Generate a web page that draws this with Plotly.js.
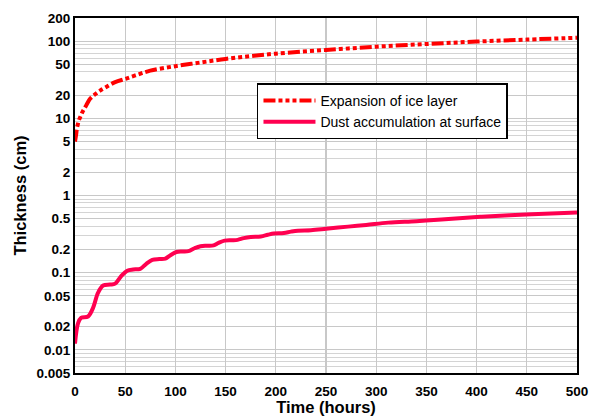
<!DOCTYPE html>
<html>
<head>
<meta charset="utf-8">
<script src="https://cdn.plot.ly/plotly-3.0.1.min.js"></script>
<style>html,body{margin:0;padding:0;background:#fff;}#chart{width:597px;height:416px;}</style>
</head>
<body>
<div id="chart"></div>
<script>
const iceTime = [0,1,2,4,6,8,11,15,20,25,30,40,50,60,75,100,125,150,175,200,250,300,350,400,450,500];
const iceThickness = [5.0,6,7.5,9.5,11,12.5,14.6,17.9,20.5,22.9,25,29.5,32.5,36,41.5,47.5,53,59,64,69,77,85,92,99,105,111];

const dustTime = [0,3,6,13,18,23,28,35,40,46,52,58,65,71,77,84,90,95,101,107,113,119,125,132,138,143,149,156,162,168,175,185,192,198,208,215,222,235,250,272,290,312,340,365,405,455,500];
const dustThickness = [0.012,0.022,0.026,0.027,0.035,0.055,0.068,0.07,0.072,0.09,0.106,0.11,0.112,0.13,0.146,0.15,0.152,0.168,0.185,0.188,0.19,0.207,0.22,0.223,0.226,0.243,0.26,0.263,0.266,0.28,0.29,0.295,0.31,0.322,0.327,0.34,0.35,0.355,0.37,0.395,0.415,0.445,0.465,0.49,0.53,0.57,0.60];

const yTicks = [0.005,0.01,0.02,0.05,0.1,0.2,0.5,1,2,5,10,20,50,100,200];
const yTickText = ['0.005','0.01','0.02','0.05','0.1','0.2','0.5','1','2','5','10','20','50','100','200'];
const xTicks = [0,50,100,150,200,250,300,350,400,450,500];

const traces = [
  {x: iceTime, y: iceThickness, mode: 'lines', name: 'Expansion of ice layer',
   line: {color: '#ff0000', width: 4, shape: 'spline', dash: '12px,3px,4px,3px,4px,3px,4px,3px'}},
  {x: dustTime, y: dustThickness, mode: 'lines', name: 'Dust accumulation at surface',
   line: {color: '#ff0050', width: 4, shape: 'spline'}}
];

const FONT = 'Liberation Sans, Arial, sans-serif';
const layout = {
  width: 597, height: 416,
  margin: {l: 75, r: 20, t: 17.5, b: 43.3},
  paper_bgcolor: '#ffffff', plot_bgcolor: '#ffffff',
  font: {family: FONT, color: '#000000'},
  showlegend: true,
  legend: {x: 0.3625, y: 0.8156, xanchor: 'left', yanchor: 'top',
    bgcolor: '#ffffff', bordercolor: '#000000', borderwidth: 1.5,
    font: {size: 14, family: FONT},
    itemwidth: 52, tracegroupgap: 0},
  xaxis: {
    range: [0, 500], tickvals: xTicks, ticks: '', showgrid: true,
    gridcolor: '#c8c8c8', gridwidth: 1.2, zeroline: false,
    showline: true, linecolor: '#000000', linewidth: 2, mirror: true,
    ticklabelstandoff: 5,
    tickfont: {size: 13.5, family: FONT, weight: 'bold'},
    title: {text: 'Time (hours)', standoff: 2, font: {size: 16.5, weight: 'bold', family: FONT}}
  },
  yaxis: {
    type: 'log', range: [Math.log10(0.005), Math.log10(200)],
    tickvals: yTicks, ticktext: yTickText, ticks: '', showgrid: true,
    gridcolor: '#c8c8c8', gridwidth: 1.2, zeroline: false,
    minor: {dtick: 'D1', showgrid: true, gridcolor: '#d4d4d4', gridwidth: 1, ticks: ''},
    showline: true, linecolor: '#000000', linewidth: 2, mirror: true,
    tickfont: {size: 13.5, family: FONT, weight: 'bold'},
    title: {text: 'Thickness (cm)', standoff: 6, font: {size: 16.5, weight: 'bold', family: FONT}}
  }
};

Plotly.newPlot('chart', traces, layout, {displayModeBar: false, staticPlot: true});
</script>
</body>
</html>
